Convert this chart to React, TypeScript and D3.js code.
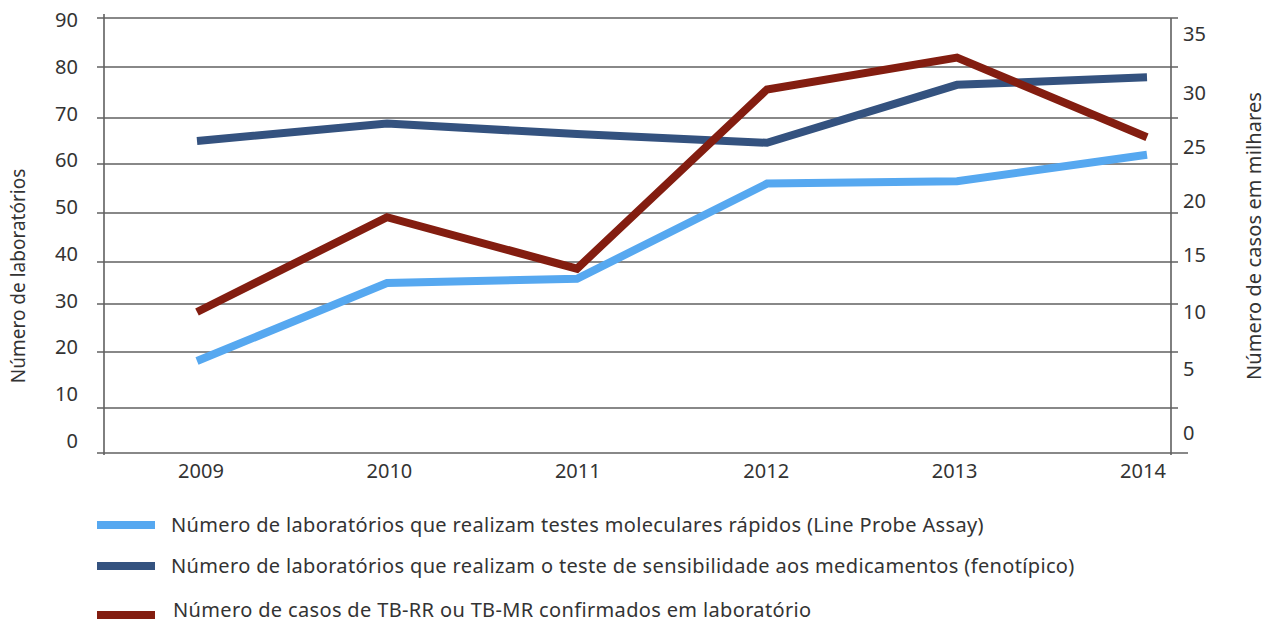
import React from "react";
import * as d3 from "d3";

const years = ["2009", "2010", "2011", "2012", "2013", "2014"];

// left axis (number of labs)
const molecular = [18.4, 35, 36, 56, 56.5, 62];
const phenotypic = [65, 68.8, 66.5, 64.6, 76.5, 78];
// right axis (cases, thousands)
const cases = [10, 18.5, 13.8, 30.3, 33, 25.9];

const leftTicks = [0, 10, 20, 30, 40, 50, 60, 70, 80, 90];
const rightTicks = [0, 5, 10, 15, 20, 25, 30, 35];

const seriesNames = [
  "Número de laboratórios que realizam testes moleculares rápidos (Line Probe Assay)",
  "Número de laboratórios que realizam o teste de sensibilidade aos medicamentos (fenotípico)",
  "Número de casos de TB-RR ou TB-MR confirmados em laboratório",
];
const colors = ["#56a8f0", "#34527f", "#831d10"];

const FONT = "'Noto Sans', 'Open Sans', sans-serif";

export default function App() {
  const W = 1267;
  const H = 623;
  const axisLeftX = 104;
  const axisRightX = 1171;

  const x = d3.scalePoint<string>().domain(years).range([197, 1147]);
  // year labels in the source are not quite under the points
  const xLabel = d3.scalePoint<string>().domain(years).range([201, 1143]);

  // the source chart's gridlines are unevenly spaced, so the left scale is piecewise
  const yLeft = d3
    .scaleLinear()
    .domain(leftTicks)
    .range([453, 408, 352, 304, 262, 213, 164, 118, 67, 18]);
  // tick labels sit on an even spacing of their own
  const yLeftLabel = d3.scaleLinear().domain([0, 90]).range([441, 20]);
  const yRight = d3
    .scaleLinear()
    .domain(rightTicks)
    .range([433, 369, 312, 255, 201, 147, 93, 34]);

  const lineLeft = d3
    .line<number>()
    .x((_, i) => x(years[i]) as number)
    .y((d) => yLeft(d));
  const lineRight = d3
    .line<number>()
    .x((_, i) => x(years[i]) as number)
    .y((d) => yRight(d));

  const series = [
    { d: lineLeft(molecular), color: colors[0] },
    { d: lineLeft(phenotypic), color: colors[1] },
    { d: lineRight(cases), color: colors[2] },
  ];

  const legendY = [525, 566, 615];
  const legendTextY = [525, 566, 610];

  return (
    <svg
      width={W}
      height={H}
      style={{ position: "absolute", left: 0, top: 0, background: "#fff" }}
      fontFamily={FONT}
    >
      {/* gridlines */}
      {leftTicks.map((t) => (
        <line
          key={"g" + t}
          x1={97}
          x2={t === 0 ? 1188 : 1178}
          y1={yLeft(t)}
          y2={yLeft(t)}
          stroke="#606060"
          strokeWidth={1.6}
        />
      ))}
      <line x1={axisLeftX} x2={axisLeftX} y1={14} y2={455} stroke="#606060" strokeWidth={1.6} />
      <line x1={axisRightX} x2={axisRightX} y1={18} y2={455} stroke="#606060" strokeWidth={1.6} />

      {/* left tick labels */}
      {leftTicks.map((t) => (
        <text
          key={"l" + t}
          x={78}
          y={yLeftLabel(t)}
          dy="0.35em"
          textAnchor="end"
          fontSize={20}
          fill="#333"
        >
          {t}
        </text>
      ))}
      {/* right tick labels */}
      {rightTicks.map((t) => (
        <text
          key={"r" + t}
          x={1183}
          y={yRight(t)}
          dy="0.35em"
          textAnchor="start"
          fontSize={20}
          fill="#333"
        >
          {t}
        </text>
      ))}
      {/* year labels */}
      {years.map((yr) => (
        <text
          key={yr}
          x={xLabel(yr) as number}
          y={471}
          dy="0.35em"
          textAnchor="middle"
          fontSize={20}
          fill="#333"
        >
          {yr}
        </text>
      ))}

      {/* axis titles */}
      <text
        transform="translate(18,276) rotate(-90)"
        textAnchor="middle"
        dy="0.35em"
        fontSize={19}
        fill="#333"
      >
        Número de laboratórios
      </text>
      <text
        transform="translate(1254,236) rotate(-90)"
        textAnchor="middle"
        dy="0.35em"
        fontSize={20}
        letterSpacing={0.1}
        fill="#333"
      >
        Número de casos em milhares
      </text>

      {/* lines */}
      {series.map((s, i) => (
        <path
          key={"s" + i}
          d={s.d ?? ""}
          fill="none"
          stroke={s.color}
          strokeWidth={8}
          strokeLinejoin="miter"
        />
      ))}

      {/* legend */}
      {seriesNames.map((name, i) => (
        <g key={"lg" + i}>
          <rect x={97} y={legendY[i] - 4} width={58} height={8} fill={colors[i]} />
          <text
            x={i === 2 ? 173 : 171}
            y={legendTextY[i]}
            dy="0.35em"
            fontSize={20}
            letterSpacing={0.35}
            fill="#333"
          >
            {name}
          </text>
        </g>
      ))}
    </svg>
  );
}
